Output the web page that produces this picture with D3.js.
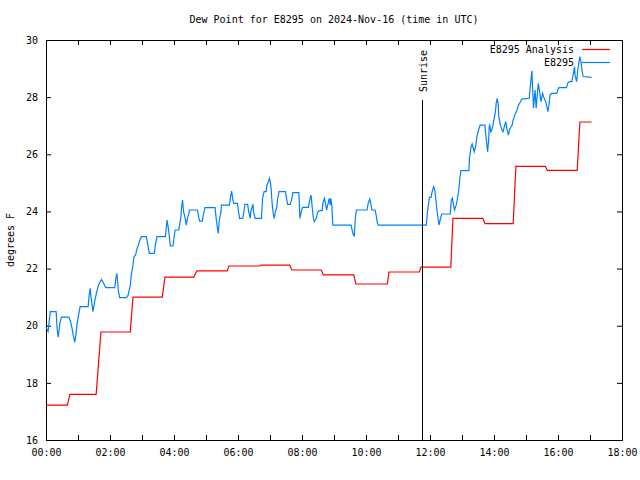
<!DOCTYPE html>
<html><head><meta charset="utf-8">
<script src="https://cdn.jsdelivr.net/npm/d3@7"></script>
<style>body{margin:0;background:#fff}svg{display:block}text{font-family:"DejaVu Sans Mono",monospace;font-size:10px;fill:#000}</style>
</head><body><svg id="c" width="640" height="480"></svg>
<script>
const title = "Dew Point for E8295 on 2024-Nov-16 (time in UTC)";
const yLabel = "degrees F";
const seriesNames = ["E8295 Analysis", "E8295"];
const xTickLabels = ["00:00","02:00","04:00","06:00","08:00","10:00","12:00","14:00","16:00","18:00"];
const yTicks = [16,18,20,22,24,26,28,30];
const sunriseMinute = 705;
// analysis (minutes after 00:00 UTC, deg F)
const analysis = [[0,17.22],[40,17.22],[45,17.6],[94,17.6],[103,19.78],[158,19.78],[163,21.0],[218,21.0],[223,21.7],[277,21.7],[283,21.92],[340,21.92],[343,22.09],[401,22.09],[403,22.12],[457,22.12],[461,21.95],[516,21.95],[520,21.78],[577,21.78],[581,21.46],[640,21.46],[643,21.88],[700,21.88],[703,22.05],[759,22.05],[763,23.76],[819,23.76],[823,23.57],[876,23.57],[881,25.58],[936,25.58],[940,25.44],[996,25.44],[1001,27.13],[1023,27.13]];
// observations (minutes after 00:00 UTC, deg F)
const observed = [[0,19.95],[4,19.8],[8,20.49],[19,20.49],[21,19.85],[23,19.6],[26,20.09],[29,20.3],[43,20.3],[46,20.14],[49,19.9],[51,19.67],[54,19.42],[56,19.67],[58,20.02],[61,20.37],[64,20.67],[79,20.67],[81,21.07],[83,21.31],[84,21.07],[86,20.78],[88,20.49],[90,20.72],[93,21.01],[96,21.25],[99,21.45],[104,21.62],[107,21.52],[112,21.33],[129,21.33],[131,21.66],[133,21.83],[134,21.6],[136,21.19],[138,20.98],[151,20.98],[154,21.07],[158,21.42],[160,21.78],[163,22.12],[165,22.42],[168,22.47],[170,22.65],[173,22.82],[176,23.0],[179,23.12],[188,23.12],[190,22.94],[192,22.71],[194,22.53],[203,22.53],[205,22.82],[208,23.12],[224,23.12],[226,23.52],[227,23.7],[229,23.47],[231,23.17],[233,22.79],[238,22.79],[240,23.06],[242,23.35],[249,23.35],[251,23.58],[253,23.82],[254,24.11],[256,24.4],[258,23.99],[261,23.76],[263,23.52],[265,23.76],[268,23.93],[269,24.05],[284,24.05],[286,23.82],[288,23.66],[293,23.66],[295,23.87],[298,24.13],[317,24.13],[319,23.76],[321,23.47],[323,23.23],[325,23.7],[328,23.99],[329,24.22],[344,24.22],[346,24.52],[348,24.71],[350,24.45],[352,24.28],[359,24.28],[361,23.99],[363,23.76],[369,23.76],[371,23.99],[373,24.25],[378,24.25],[380,23.99],[383,23.76],[384,23.99],[388,24.25],[389,23.99],[392,23.76],[404,23.76],[406,24.46],[409,24.69],[413,24.69],[414,24.92],[417,25.04],[419,25.16],[421,24.98],[422,24.81],[424,24.28],[426,23.93],[428,23.76],[430,23.99],[433,24.17],[434,24.4],[437,24.69],[449,24.69],[451,24.46],[453,24.25],[458,24.25],[461,24.46],[463,24.66],[474,24.66],[475,24.28],[476,23.76],[478,23.93],[481,24.14],[492,24.14],[494,24.34],[496,24.52],[497,24.57],[499,24.17],[501,23.82],[503,23.64],[507,23.76],[509,23.96],[512,24.03],[518,24.03],[519,24.28],[522,24.46],[524,24.28],[526,24.05],[529,24.28],[531,24.46],[533,24.22],[534,24.46],[536,24.22],[537,23.76],[538,23.52],[572,23.52],[574,23.35],[576,23.2],[578,23.12],[580,23.76],[582,24.05],[602,24.05],[604,24.28],[607,24.43],[609,24.28],[611,24.05],[617,24.05],[619,23.87],[621,23.62],[623,23.52],[713,23.52],[715,23.93],[717,24.22],[719,24.49],[722,24.49],[724,24.69],[727,24.87],[729,24.75],[731,24.4],[733,24.05],[735,23.76],[737,23.52],[739,23.7],[742,23.91],[758,23.91],[760,24.4],[762,24.46],[764,24.22],[766,24.05],[769,24.22],[771,24.4],[774,24.75],[776,25.16],[778,25.43],[793,25.43],[794,25.86],[797,26.27],[799,26.36],[801,26.21],[803,26.09],[806,26.32],[808,26.62],[811,26.85],[814,27.02],[823,27.02],[824,26.79],[826,26.44],[828,26.09],[830,26.5],[831,26.97],[832,27.02],[834,26.79],[836,26.85],[838,27.02],[841,27.32],[843,27.55],[844,27.78],[846,27.96],[848,27.72],[849,27.32],[852,27.02],[855,26.85],[857,26.79],[860,27.02],[862,27.14],[864,26.91],[867,26.67],[869,26.85],[872,26.97],[874,27.02],[876,27.2],[879,27.37],[883,27.55],[886,27.72],[889,27.82],[892,27.93],[906,27.96],[911,28.92],[914,27.61],[917,28.25],[919,27.61],[923,28.48],[926,28.13],[928,27.84],[931,28.13],[934,27.96],[937,27.84],[939,27.67],[941,27.49],[943,27.72],[945,28.08],[948,28.13],[958,28.13],[959,28.25],[962,28.33],[976,28.33],[978,28.48],[981,28.54],[986,28.54],[987,28.66],[989,28.83],[991,29.07],[992,28.77],[995,28.54],[997,28.95],[999,29.18],[1001,29.42],[1003,29.24],[1005,28.95],[1007,28.72],[1023,28.69]];
const colors = ["#ff0000", "#0080ff"];

const svg = d3.select("#c");
const m = {l:46, r:622, t:40, b:440};
const x = d3.scaleLinear().domain([0,1080]).range([m.l, m.r]);
const y = d3.scaleLinear().domain([16,30]).range([m.b, m.t]);
const hourTicks = d3.range(0, 1081, 60);
const fmt = v => (v % 120 === 0) ? xTickLabels[v/120] : "";

svg.append("g").attr("transform",`translate(0,${m.b})`)
  .call(d3.axisBottom(x).tickValues(hourTicks).tickFormat(fmt).tickSize(-5).tickPadding(9))
  .call(g=>{g.select(".domain").remove(); g.selectAll("text").style("font-family",'"DejaVu Sans Mono",monospace').style("font-size","10px");});
svg.append("g").attr("transform",`translate(0,${m.t})`)
  .call(d3.axisTop(x).tickValues(hourTicks).tickFormat("").tickSize(-5))
  .call(g=>g.select(".domain").remove());
svg.append("g").attr("transform",`translate(${m.l},0)`)
  .call(d3.axisLeft(y).tickValues(yTicks).tickFormat(d3.format("d")).tickSize(-5).tickPadding(8))
  .call(g=>{g.select(".domain").remove(); g.selectAll("text").style("font-family",'"DejaVu Sans Mono",monospace').style("font-size","10px");});
svg.append("g").attr("transform",`translate(${m.r},0)`)
  .call(d3.axisRight(y).tickValues(yTicks).tickFormat("").tickSize(-5))
  .call(g=>g.select(".domain").remove());
svg.selectAll(".tick line").attr("stroke","#000");

svg.append("rect").attr("x",m.l+0.5).attr("y",m.t+0.5).attr("width",m.r-m.l).attr("height",m.b-m.t)
  .attr("fill","none").attr("stroke","#000");

const line = d3.line().x(d=>x(d[0])).y(d=>y(d[1]));
svg.append("path").datum(analysis).attr("d",line).attr("fill","none").attr("stroke",colors[0]).attr("stroke-width",1.2);
svg.append("path").datum(observed).attr("d",line).attr("fill","none").attr("stroke",colors[1]).attr("stroke-width",1.2);

// sunrise
const sx = Math.round(x(sunriseMinute))+0.5;
svg.append("line").attr("x1",sx).attr("x2",sx).attr("y1",y(27.9)).attr("y2",m.b).attr("stroke","#000");
svg.append("text").attr("transform",`translate(${sx+4},${y(28.18)}) rotate(-90)`).text("Sunrise");

svg.append("text").attr("x",334).attr("y",23).attr("text-anchor","middle").text(title);
svg.append("text").attr("transform","translate(14,240) rotate(-90)").attr("text-anchor","middle").text(yLabel);

// legend
seriesNames.forEach((n,i)=>{
  const ly = 49.5 + i*13;
  svg.append("text").attr("x",574).attr("y",ly+3.5).attr("text-anchor","end").text(n);
  svg.append("line").attr("x1",582).attr("x2",610).attr("y1",ly).attr("y2",ly).attr("stroke",colors[i]).attr("stroke-width",1.2);
});
</script></body></html>
